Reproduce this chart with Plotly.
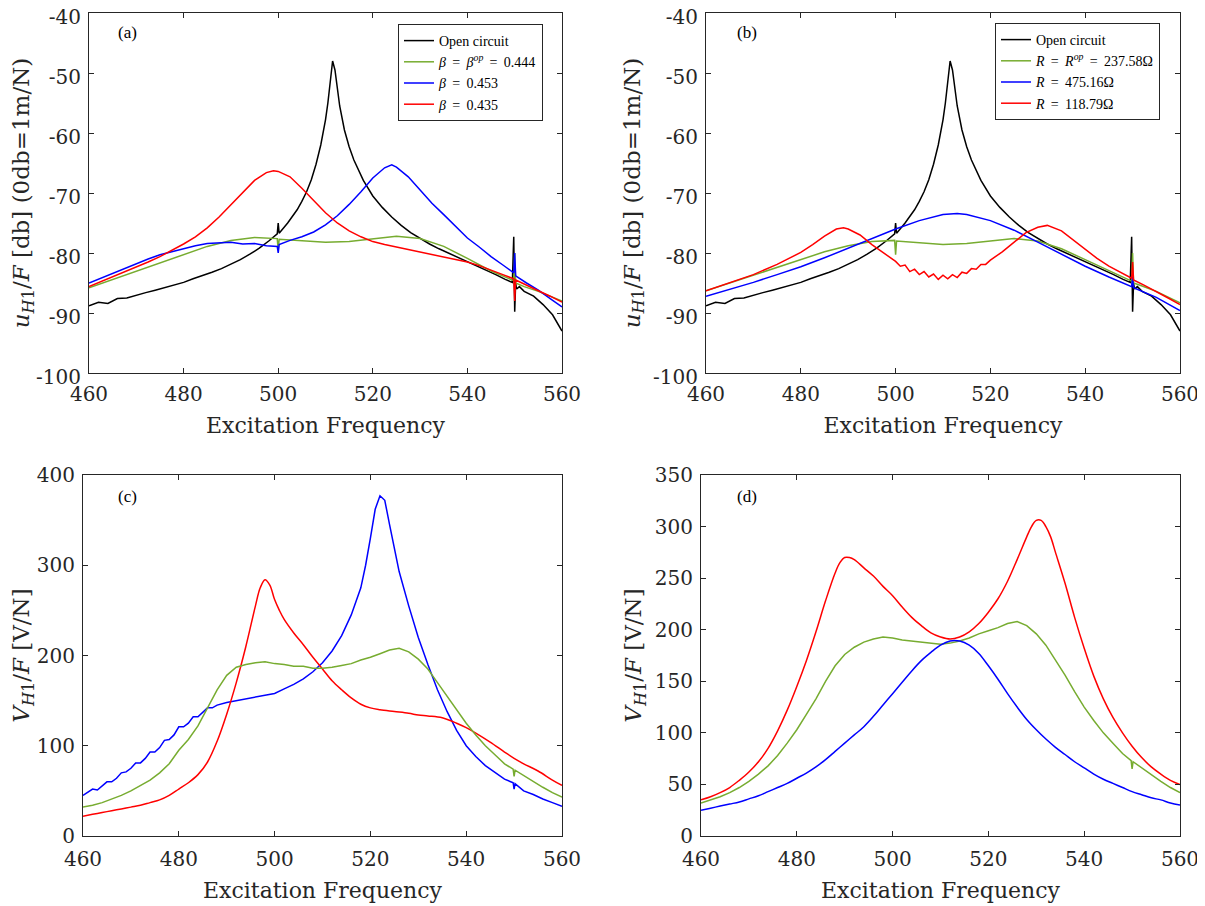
import plotly.graph_objects as go

# ---------------- data ----------------
# Open circuit (panels a and b)
oc_f = [460, 462, 464, 466, 468, 470, 472, 474, 476, 478, 480, 482, 484, 486, 488, 490, 492, 494, 496, 498,
        499.8, 500, 500.2, 502, 504, 505, 506, 507, 508, 509, 510, 510.5, 511, 511.5, 512, 512.5, 513, 514,
        515, 516, 518, 520, 522, 524, 526, 528, 530, 532, 534, 536, 538, 540, 542, 544, 546, 548, 549.5,
        549.8, 550, 550.2, 550.4, 551, 552, 554, 556, 558, 559, 560]
oc_v = [-88.8, -88.2, -88.4, -87.6, -87.5, -87.0, -86.6, -86.2, -85.8, -85.3, -84.9, -84.3, -83.8, -83.2,
        -82.6, -81.9, -81.1, -80.2, -79.2, -78.0, -76.8, -75.0, -76.7, -75.0, -72.8, -71.4, -69.8, -67.8,
        -65.2, -62.0, -57.8, -55.0, -51.5, -48.0, -49.5, -52.5, -55.5, -59.5, -62.3, -64.5, -67.9, -70.5,
        -72.4, -74.0, -75.4, -76.6, -77.6, -78.5, -79.3, -80.0, -80.7, -81.4, -82.1, -82.8, -83.6, -84.4,
        -84.9, -77.3, -89.8, -85.0, -86.0, -85.6, -86.4, -87.2, -88.6, -90.3, -91.6, -93.0]

# Panel (a)
ga_f = [460, 465, 470, 475, 480, 485, 490, 495, 499.8, 500, 500.2, 505, 510, 515, 520, 525, 530, 535, 540,
        545, 549.8, 550, 550.2, 552, 555, 560]
ga_v = [-85.8, -84.4, -83.0, -81.6, -80.2, -78.9, -77.9, -77.4, -77.6, -79.5, -77.7, -78.0, -78.2, -78.1,
        -77.6, -77.2, -77.6, -78.9, -80.9, -83.0, -84.6, -80.0, -85.0, -85.6, -86.4, -88.0]

ba_f = [460, 462.5, 465, 467.5, 470, 472.5, 475, 477.5, 480, 482.5, 485, 487.5, 490, 492.5, 495, 497.5,
        499.8, 500, 500.2, 502.5, 505, 507.5, 510, 512.5, 515, 517.5, 520, 522.5, 524, 525, 527.5, 530,
        532.5, 535, 537.5, 540, 542.5, 545, 547.5, 549.8, 550, 550.2, 552.5, 555, 557.5, 560]
ba_v = [-85.0, -84.2, -83.3, -82.6, -81.8, -81.0, -80.3, -79.8, -79.2, -78.8, -78.4, -78.3, -78.2, -78.5,
        -78.4, -78.8, -78.9, -80.0, -78.6, -77.9, -77.3, -76.5, -75.3, -73.8, -71.9, -69.8, -67.5, -65.8,
        -65.3, -65.7, -67.3, -69.5, -71.7, -73.6, -75.6, -77.5, -79.0, -80.6, -82.0, -83.3, -80.0, -83.8,
        -85.0, -86.2, -87.6, -89.0]

ra_f = [460, 462.5, 465, 467.5, 470, 472.5, 475, 477.5, 480, 482.5, 485, 487.5, 490, 492.5, 495, 497.5,
        499, 500, 502.5, 505, 507.5, 510, 512.5, 515, 517.5, 520, 522.5, 525, 527.5, 530, 532.5, 535,
        537.5, 540, 542.5, 545, 547.5, 549.8, 550, 550.2, 552.5, 555, 557.5, 560]
ra_v = [-85.6, -84.8, -84.0, -83.2, -82.4, -81.5, -80.6, -79.6, -78.5, -77.3, -75.8, -74.0, -72.0, -69.9,
        -67.9, -66.6, -66.3, -66.4, -67.3, -69.2, -71.3, -73.3, -75.0, -76.3, -77.3, -78.1, -78.6, -79.0,
        -79.4, -79.8, -80.2, -80.6, -81.0, -81.5, -82.1, -82.8, -83.6, -84.3, -88.0, -84.5, -85.4, -86.3,
        -87.2, -88.2]

# Panel (b)
gb_f = [460, 465, 470, 475, 480, 485, 490, 495, 499.8, 500, 500.2, 505, 510, 515, 520, 525, 530, 535, 540,
        545, 549.8, 550, 550.2, 552, 555, 560]
gb_v = [-86.3, -85.0, -83.7, -82.3, -81.0, -79.8, -78.8, -78.1, -77.9, -80.3, -78.0, -78.3, -78.6, -78.4,
        -78.0, -77.6, -78.0, -79.3, -81.1, -83.0, -84.7, -80.0, -85.0, -85.5, -86.4, -88.3]

bb_f = [460, 465, 470, 475, 480, 485, 490, 495, 500, 505, 510, 513, 515, 520, 525, 530, 535, 540, 545,
        549.8, 550, 550.2, 555, 560]
bb_v = [-87.2, -86.1, -84.9, -83.6, -82.3, -80.8, -79.2, -77.6, -76.0, -74.6, -73.6, -73.4, -73.6, -74.6,
        -76.2, -78.2, -80.2, -82.2, -84.0, -85.6, -84.0, -85.8, -87.4, -89.6]

rb_f = [460, 465, 470, 475, 480, 482.5, 485, 487.5, 489, 490, 492.5, 495, 497.5, 500, 501, 502, 503, 504,
        505, 506, 507, 508, 509, 510, 511, 512, 513, 514, 515, 516, 517, 518, 519, 520, 522.5, 525, 527.5,
        530, 532, 535, 537.5, 540, 542.5, 545, 547.5, 549.8, 550, 550.2, 552.5, 555, 557.5, 560]
rb_v = [-86.3, -85.0, -83.6, -81.9, -79.9, -78.6, -77.2, -76.0, -75.8, -76.0, -77.0, -78.6, -80.0, -81.4,
        -82.2, -82.0, -83.1, -82.7, -83.6, -83.1, -84.0, -83.5, -84.4, -83.7, -84.3, -83.6, -84.1, -83.2,
        -83.4, -82.6, -82.7, -81.9, -81.9, -81.2, -79.8, -78.2, -76.6, -75.7, -75.4, -76.3, -77.8, -79.4,
        -80.9, -82.2, -83.3, -84.2, -81.5, -84.5, -85.4, -86.4, -87.5, -88.6]

# Panel (c)
bc_f = [460, 461, 462, 463, 464, 465, 466, 467, 468, 469, 470, 471, 472, 473, 474, 475, 476, 477, 478, 479,
        480, 481, 482, 483, 484, 485, 486, 487, 488, 490, 492, 494, 496, 498, 500, 502, 504, 506, 508, 510,
        512, 514, 516, 518, 519, 520, 521, 522, 523, 524, 525, 526, 528, 530, 532, 534, 536, 538, 540, 542,
        544, 546, 548, 549.8, 550, 550.2, 552, 554, 556, 558, 560]
bc_v = [45, 49, 52, 51, 55, 60, 60, 64, 70, 71, 75, 81, 81, 86, 93, 93, 98, 106, 107, 112, 121, 121, 125,
        132, 132, 137, 142, 142, 145, 148, 150, 152, 154, 156, 158, 163, 168, 174, 182, 192, 205, 222, 245,
        275, 300, 330, 362, 377, 372, 345, 318, 293, 255, 220, 190, 162, 138, 117, 100, 88, 78, 70, 63, 59,
        52, 58, 50, 46, 41, 37, 33]

rc_f = [460, 462, 464, 466, 468, 470, 472, 474, 476, 478, 480, 482, 484, 486, 488, 490, 492, 494, 496, 497,
        498, 499, 500, 501, 502, 504, 506, 508, 510, 512, 514, 516, 518, 520, 522, 525, 528, 530, 532, 535,
        538, 540, 542, 545, 548, 550, 552, 555, 558, 560]
rc_v = [22, 24, 26, 28, 30, 32, 34, 37, 40, 45, 52, 59, 68, 82, 105, 135, 170, 210, 255, 275, 284, 278, 262,
        250, 240, 225, 212, 198, 185, 172, 162, 153, 146, 142, 140, 138, 136, 134, 133, 131, 125, 120, 114,
        104, 93, 86, 80, 72, 62, 56]

gc_f = [460, 462, 464, 466, 468, 470, 472, 474, 476, 478, 480, 482, 484, 486, 488, 490, 492, 494, 496, 498,
        500, 502, 504, 506, 508, 510, 512, 514, 516, 518, 520, 522, 524, 526, 528, 530, 532, 534, 536, 538,
        540, 542, 544, 546, 548, 549.8, 550, 550.2, 552, 554, 556, 558, 560]
gc_v = [32, 34, 37, 41, 45, 50, 56, 62, 70, 80, 95, 107, 122, 142, 162, 178, 187, 190, 192, 193, 191, 190,
        188, 188, 186, 186, 187, 189, 191, 195, 198, 202, 206, 208, 204, 196, 185, 170, 155, 140, 125, 112,
        100, 90, 80, 74, 66, 73, 67, 61, 54, 48, 43]

# Panel (d)
rd_f = [460, 462, 464, 466, 468, 470, 472, 474, 476, 478, 480, 482, 484, 486, 488, 489, 490, 491, 492, 494,
        496, 498, 500, 502, 504, 506, 508, 510, 512, 514, 516, 518, 520, 522, 524, 526, 528, 529, 530, 531,
        532, 533, 534, 536, 538, 540, 542, 544, 546, 548, 550, 552, 554, 556, 558, 560]
rd_v = [35, 38, 42, 47, 54, 62, 72, 85, 102, 122, 145, 170, 198, 228, 255, 265, 270, 270, 268, 260, 252,
        242, 233, 222, 212, 204, 197, 193, 191, 193, 198, 206, 217, 230, 247, 268, 290, 300, 306, 306, 300,
        290, 275, 245, 212, 182, 155, 133, 115, 100, 87, 76, 67, 60, 54, 50]

gd_f = [460, 462, 464, 466, 468, 470, 472, 474, 476, 478, 480, 482, 484, 486, 488, 490, 492, 494, 496, 498,
        500, 502, 504, 506, 508, 510, 512, 514, 516, 518, 520, 522, 524, 526, 528, 530, 532, 534, 536, 538,
        540, 542, 544, 546, 548, 549.8, 550, 550.2, 552, 554, 556, 558, 560]
gd_v = [32, 35, 38, 42, 47, 53, 60, 68, 78, 90, 103, 118, 133, 150, 165, 176, 183, 188, 191, 193, 192, 190,
        189, 188, 187, 186, 187, 189, 192, 196, 199, 202, 206, 208, 204, 196, 185, 171, 156, 140, 125, 112,
        100, 90, 80, 73, 65, 72, 66, 60, 53, 47, 42]

bd_f = [460, 462, 464, 466, 468, 470, 472, 474, 476, 478, 480, 482, 484, 486, 488, 490, 492, 494, 496, 498,
        500, 502, 504, 506, 508, 510, 512, 514, 516, 518, 520, 522, 524, 526, 528, 530, 532, 534, 536, 538,
        540, 542, 544, 546, 548, 550, 552, 554, 556, 558, 560]
bd_v = [25, 27, 29, 31, 33, 36, 39, 43, 47, 51, 56, 61, 67, 74, 82, 90, 98, 106, 116, 127, 138, 149, 160,
        170, 178, 185, 189, 189, 185, 177, 165, 152, 138, 125, 113, 103, 94, 86, 79, 72, 66, 60, 55, 51, 47,
        43, 40, 37, 35, 32, 30]

# tick labels
x_ticks = [460, 480, 500, 520, 540, 560]
x_ticktext = ["460", "480", "500", "520", "540", "560"]
db_ticks = [-100, -90, -80, -70, -60, -50, -40]
db_ticktext = ["-100", "-90", "-80", "-70", "-60", "-50", "-40"]
vc_ticks = [0, 100, 200, 300, 400]
vd_ticks = [0, 50, 100, 150, 200, 250, 300, 350]

names_a = ["Open circuit",
           "<i>β</i>\u2009 = \u2009<i>β</i><sup><i>op</i></sup>\u2009 = \u20090.444",
           "<i>β</i>\u2009 = \u20090.453",
           "<i>β</i>\u2009 = \u20090.435"]
names_b = ["Open circuit",
           "<i>R</i>\u2009 = \u2009<i>R</i><sup><i>op</i></sup>\u2009 = \u2009237.58Ω",
           "<i>R</i>\u2009 = \u2009475.16Ω",
           "<i>R</i>\u2009 = \u2009118.79Ω"]
panel_labels = ["(a)", "(b)", "(c)", "(d)"]

BLACK = "#000000"
GREEN = "#77AC30"
BLUE = "#0000FF"
RED = "#FF0000"
FONT = "DejaVu Serif"
LFONT = "Liberation Serif"
AX = "#262626"

fig = go.Figure()

def add(x, y, color, name, xa, ya, legend="legend", show=False, shape="linear"):
    fig.add_trace(go.Scatter(x=x, y=y, mode="lines", line=dict(color=color, width=1.5, shape=shape),
                             name=name, xaxis=xa, yaxis=ya, showlegend=show, legend=legend))

# (a)
add(oc_f, oc_v, BLACK, names_a[0], "x", "y", "legend", True)
add(ga_f, ga_v, GREEN, names_a[1], "x", "y", "legend", True)
add(ba_f, ba_v, BLUE, names_a[2], "x", "y", "legend", True)
add(ra_f, ra_v, RED, names_a[3], "x", "y", "legend", True)
# (b)
add(oc_f, oc_v, BLACK, names_b[0], "x2", "y2", "legend2", True)
add(gb_f, gb_v, GREEN, names_b[1], "x2", "y2", "legend2", True)
add(bb_f, bb_v, BLUE, names_b[2], "x2", "y2", "legend2", True)
add(rb_f, rb_v, RED, names_b[3], "x2", "y2", "legend2", True)
# (c)
add(bc_f, bc_v, BLUE, "", "x3", "y3")
add(rc_f, rc_v, RED, "", "x3", "y3", shape="spline")
add(gc_f, gc_v, GREEN, "", "x3", "y3")
# (d)
add(rd_f, rd_v, RED, "", "x4", "y4", shape="spline")
add(gd_f, gd_v, GREEN, "", "x4", "y4")
add(bd_f, bd_v, BLUE, "", "x4", "y4", shape="spline")

# page body has an 8px margin -> figure is drawn offset by 8px
OFF = 8
W, H = 1205 - OFF, 906 - OFF
def fx(px): return (px - OFF) / W
def fy(py): return 1 - (py - OFF) / H

axis_common = dict(showline=True, linecolor=AX, linewidth=1, mirror="ticks", ticks="inside",
                   ticklen=5, tickcolor=AX, showgrid=False, zeroline=False,
                   tickfont=dict(family=FONT, size=20, color=AX), automargin=False,
                   ticklabeloverflow="allow")

xt = dict(text="Excitation Frequency", font=dict(family=FONT, size=22, color=AX), standoff=12)
ytf = dict(family=FONT, size=23, color=AX)
u_title = "<i>u</i><sub><i>H</i>1</sub>/<i>F</i> [db] (0db=1m/N)"
v_title = "<i>V</i><sub><i>H</i>1</sub>/<i>F</i> [V/N]"

TOP = 13
fig.update_layout(
    width=W, height=H, margin=dict(l=0, r=0, t=0, b=0),
    paper_bgcolor="white", plot_bgcolor="white",
    font=dict(family=FONT, color=AX),
    xaxis=dict(domain=[fx(89), fx(562)], range=[460, 560], anchor="y", tickvals=x_ticks,
               ticktext=x_ticktext, title=xt, ticklabelstandoff=3, **axis_common),
    yaxis=dict(domain=[fy(373), fy(TOP)], range=[-100, -40], anchor="x", tickvals=db_ticks,
               ticktext=db_ticktext, ticklabelshift=4, ticklabelstandoff=3,
               title=dict(text=u_title, font=ytf, standoff=6), **axis_common),
    xaxis2=dict(domain=[fx(706), fx(1180)], range=[460, 560], anchor="y2", tickvals=x_ticks,
                ticktext=x_ticktext, title=xt, ticklabelstandoff=3, **axis_common),
    yaxis2=dict(domain=[fy(373), fy(TOP)], range=[-100, -40], anchor="x2", tickvals=db_ticks,
                ticktext=db_ticktext, ticklabelshift=4, ticklabelstandoff=3,
                title=dict(text=u_title, font=ytf, standoff=6), **axis_common),
    xaxis3=dict(domain=[fx(83), fx(562)], range=[460, 560], anchor="y3", tickvals=x_ticks,
                ticktext=x_ticktext, title=xt, ticklabelstandoff=5, **axis_common),
    yaxis3=dict(domain=[fy(836), fy(475)], range=[0, 400], anchor="x3", tickvals=vc_ticks,
                ticklabelstandoff=3, title=dict(text=v_title, font=ytf, standoff=6), **axis_common),
    xaxis4=dict(domain=[fx(701), fx(1180)], range=[460, 560], anchor="y4", tickvals=x_ticks,
                ticktext=x_ticktext, title=xt, ticklabelstandoff=5, **axis_common),
    yaxis4=dict(domain=[fy(836), fy(475)], range=[0, 350], anchor="x4", tickvals=vd_ticks,
                ticklabelstandoff=3, title=dict(text=v_title, font=ytf, standoff=6), **axis_common),
    legend=dict(x=fx(543), y=fy(24), xanchor="right", yanchor="top", bgcolor="white",
                bordercolor=AX, borderwidth=1, font=dict(family=LFONT, size=14, color="#000000"),
                tracegroupgap=0, itemwidth=30),
    legend2=dict(x=fx(1160), y=fy(23), xanchor="right", yanchor="top", bgcolor="white",
                 bordercolor=AX, borderwidth=1, font=dict(family=LFONT, size=14, color="#000000"),
                 tracegroupgap=0, itemwidth=30),
)

label_pos = [(127, 33), (747, 33), (127, 496), (747, 496)]
for lab, (px, py) in zip(panel_labels, label_pos):
    fig.add_annotation(text=lab, x=fx(px), y=fy(py), xref="paper", yref="paper", showarrow=False,
                       font=dict(family=LFONT, size=17, color="#000000"), xanchor="center", yanchor="middle")

fig.write_html("out.html")
